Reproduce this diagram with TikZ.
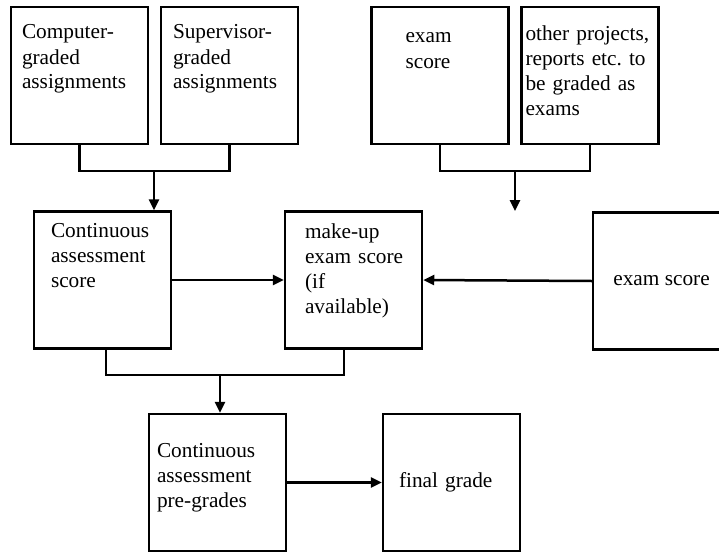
\documentclass[tikz,border=0pt]{standalone}
\usepackage{fontspec}
\setmainfont{Liberation Serif}
\usepackage{tikz}
\usetikzlibrary{arrows.meta}

\begin{document}
\begin{tikzpicture}[x=1pt,y=-1pt,line width=2.5pt,
    box/.style={draw, minimum width=137pt, minimum height=137pt, inner ysep=0pt,
      align=left, font=\fontsize{21.3}{25}\selectfont},
    toptext/.style 2 args={inner xsep=#1, text width={137pt-2*#1},
      text height=#2, text depth={137pt-#2}},
    arr/.style={-{Triangle[length=11pt,width=10pt]}}]
    \useasboundingbox (0,0) rectangle (719,551);
    % first row
    \node[box, toptext={11pt}{32pt}] (cg) at (79.5,75.5) {Computer-\\graded\\assignments};
    \node[box, toptext={12pt}{32pt}] (sg) at (229.5,75.5) {Supervisor-\\graded\\assignments};
    \node[box, toptext={34pt}{36pt}] (es) at (440,75.5) {exam\\score};
    \node[box, toptext={4pt}{34pt}] (op) at (590,75.5) {other projects,\\reports etc.\ to\\be graded as\\exams};
    % second row
    \node[box, toptext={17pt}{26pt}] (ca) at (102.5,280) {Continuous\\assessment\\score};
    \node[box, toptext={20pt}{27pt}] (mu) at (353.5,280) {make-up\\\mbox{exam score}\\(if\\available)};
    \node[box] (er) at (661.5,281) {exam score};
    % third row
    \node[box, toptext={8pt}{43pt}] (pg) at (217.5,482.5) {Continuous\\assessment\\pre-grades};
    \node[box, inner xsep=16pt, text width=105pt] (fg) at (451.5,482.5) {final grade};
    % junctions
    \coordinate (jl) at (154,171);
    \coordinate (jr) at (515,171);
    \coordinate (jrend) at (515,211);
    \coordinate (jb) at (220,375);
    % first row to second row
    \draw (cg.south) |- (jl) -| (sg.south);
    \draw[arr] (jl) -- (jl |- ca.north);
    \draw (es.south) |- (jr) -| (op.south);
    \draw[arr] (jr) -- (jrend);
    % horizontal arrows
    \draw[arr] (ca.east) -- (mu.west);
    \draw[arr] (er.west) -- (mu.east);
    % second row to third row
    \draw ([xshift=3.5pt]ca.south) |- (jb) -| ([xshift=-9.5pt]mu.south);
    \draw[arr] (jb) -- (jb |- pg.north);
    \draw[arr] (pg.east) -- (fg.west);
\end{tikzpicture}
\end{document}
